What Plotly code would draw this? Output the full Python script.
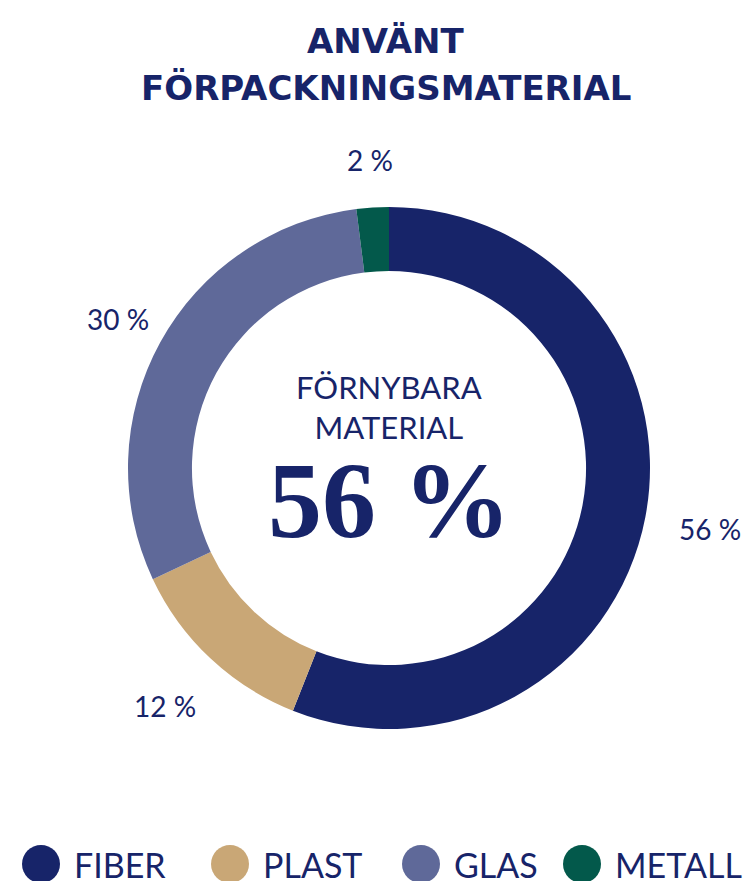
import math
import plotly.graph_objects as go

# ---- data ----
categories = ["FIBER", "PLAST", "GLAS", "METALL"]
values = [56, 12, 30, 2]
label_texts = ["56 %", "12 %", "30 %", "2 %"]
title_lines = ["ANVÄNT", "FÖRPACKNINGSMATERIAL"]
center_lines = ["FÖRNYBARA", "MATERIAL"]
center_value = "56 %"

# ---- style ----
W, H = 745, 881
NAVY = "#172469"
colors = ["#172469", "#c9a776", "#5f6999", "#03594b"]
CX, CY, R_OUT = 389, 468, 261   # pixel coordinates
HOLE = 0.755
label_radius = [327, 327, 309, 309]
legend_circle_x = [41, 230, 421, 582]
LEG_Y = 864
LEG_R = 19


def px(x):
    return x / W


def py(y):
    return 1 - y / H


fig = go.Figure()
fig.add_trace(go.Pie(
    labels=categories,
    values=values,
    hole=HOLE,
    sort=False,
    direction="clockwise",
    rotation=0,
    textinfo="none",
    hoverinfo="label+percent",
    marker=dict(colors=colors, line=dict(width=0)),
    domain=dict(x=[px(CX - R_OUT), px(CX + R_OUT)],
                y=[py(CY + R_OUT), py(CY - R_OUT)]),
    showlegend=False,
))

annotations = []
# slice labels at mid-angles
total = sum(values)
cum = 0
for v, t, r in zip(values, label_texts, label_radius):
    mid = (cum + v / 2) / total * 2 * math.pi
    cum += v
    lx = CX + r * math.sin(mid)
    ly = CY - r * math.cos(mid)
    annotations.append(dict(x=px(lx), y=py(ly), xref="paper", yref="paper",
                            text=t, showarrow=False, xanchor="center", yanchor="middle",
                            font=dict(family="Lato", size=28, color=NAVY)))

# title
for t, yc in zip(title_lines, [41, 88]):
    annotations.append(dict(x=px(386), y=py(yc), xref="paper", yref="paper",
                            text="<b>" + t + "</b>", showarrow=False,
                            xanchor="center", yanchor="middle",
                            font=dict(family="DejaVu Sans", size=34, color=NAVY)))

# center text
annotations.append(dict(x=px(CX), y=py(407), xref="paper", yref="paper",
                        text="<br>".join(center_lines), showarrow=False,
                        xanchor="center", yanchor="middle",
                        font=dict(family="Lato", size=31, color=NAVY)))
annotations.append(dict(x=px(CX), y=py(500), xref="paper", yref="paper",
                        text="<b>" + center_value + "</b>", showarrow=False,
                        xanchor="center", yanchor="middle",
                        font=dict(family="Liberation Serif", size=108, color=NAVY)))

# legend
shapes = []
for c, name, lx in zip(colors, categories, legend_circle_x):
    shapes.append(dict(type="circle", xref="paper", yref="paper",
                       x0=px(lx - LEG_R), x1=px(lx + LEG_R),
                       y0=py(LEG_Y + LEG_R), y1=py(LEG_Y - LEG_R),
                       fillcolor=c, line=dict(width=0)))
    annotations.append(dict(x=px(lx + LEG_R + 12), y=py(LEG_Y), xref="paper", yref="paper",
                            text=name, showarrow=False, xanchor="left", yanchor="middle",
                            font=dict(family="Lato", size=34, color=NAVY)))

fig.update_layout(
    width=W, height=H, autosize=False,
    margin=dict(l=0, r=0, t=0, b=0),
    paper_bgcolor="white", plot_bgcolor="white",
    annotations=annotations, shapes=shapes,
)

fig.write_html("out.html",
               config={"displayModeBar": False},
               post_script="document.body.style.margin='0';document.body.style.overflow='hidden';")
